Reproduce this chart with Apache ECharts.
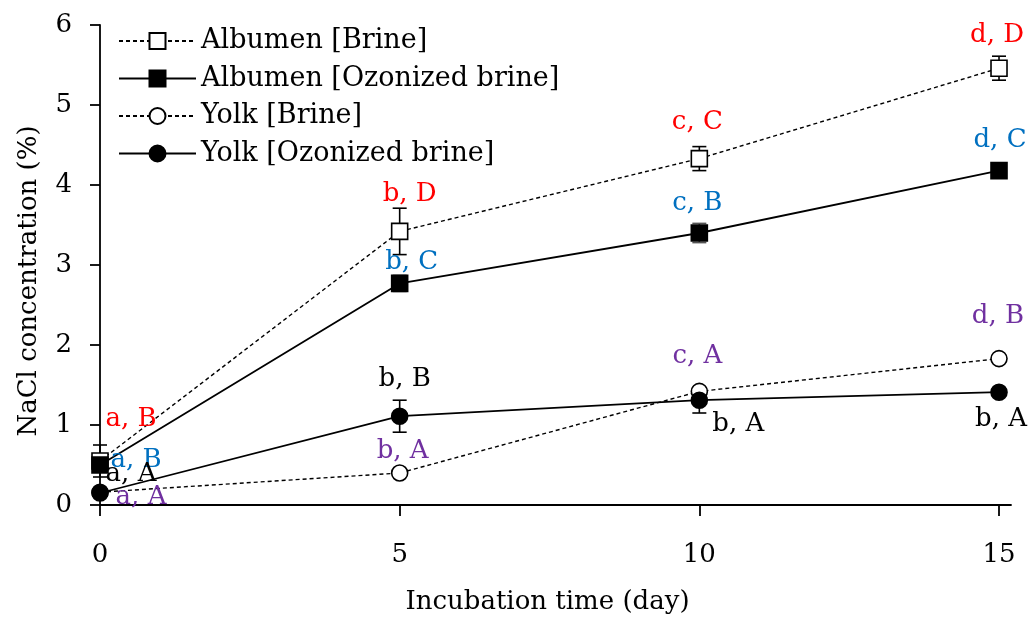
<!DOCTYPE html>
<html><head><meta charset="utf-8">
<script src="https://cdn.jsdelivr.net/npm/echarts@6/dist/echarts.min.js"></script>
<style>html,body{margin:0;padding:0;background:#fff}#c{width:1031px;height:620px}</style>
</head><body><div id="c"></div>
<script>
// ---- data ----
const days = [0, 5, 10, 15];
const xTicks = [0, 5, 10, 15];
const seriesNames = ['Albumen [Brine]', 'Albumen [Ozonized brine]', 'Yolk [Brine]', 'Yolk [Ozonized brine]'];
const albumenBrine = [0.55, 3.42, 4.33, 5.46];
const albumenBrineErr = [0.2, 0.29, 0.15, 0.15];
const albumenOzone = [0.50, 2.77, 3.40, 4.18];
const albumenOzoneErr = [0, 0.1, 0.12, 0];
const yolkBrine = [0.16, 0.40, 1.42, 1.83];
const yolkBrineErr = [0, 0, 0.04, 0];
const yolkOzone = [0.15, 1.11, 1.31, 1.41];
const yolkOzoneErr = [0, 0.2, 0.16, 0];
const albumenBrineLetters = ['a, B', 'b, D', 'c, C', 'd, D'];
const albumenOzoneLetters = ['a, B', 'b, C', 'c, B', 'd, C'];
const yolkBrineLetters = ['a, A', 'b, A', 'c, A', 'd, B'];
const yolkOzoneLetters = ['a, A', 'b, B', 'b, A', 'b, A'];

// ---- styling ----
const FONT = 'DejaVu Serif';
const FS = 26;
const labelOffsets = [
  [[31, -42], [10, -37], [-2, -36], [-2, -33]],
  [[36, -5], [12, -21], [-2, -30], [1, -30]],
  [[41, 5], [3, -22], [-2, -35], [-1, -42]],
  [[31, -19], [5, -37], [39, 24], [2, 27]]
];
const labelColors = ['#ff0000', '#0070c0', '#7030a0', '#000000'];
const values = [albumenBrine, albumenOzone, yolkBrine, yolkOzone];
const errs = [albumenBrineErr, albumenOzoneErr, yolkBrineErr, yolkOzoneErr];
const letters = [albumenBrineLetters, albumenOzoneLetters, yolkBrineLetters, yolkOzoneLetters];
const symbols = ['rect', 'rect', 'circle', 'circle'];
const filled = [false, true, false, true];
const dashed = [true, false, true, false];
const errColors = ['#000', '#555', '#000', '#000'];

const series = [];
for (let s = 0; s < 4; s++) {
  series.push({
    type: 'custom',
    z: 1,
    silent: true,
    renderItem: function (params, api) {
      const x = api.value(0), y = api.value(1), e = api.value(2);
      if (!e) return null;
      const top = api.coord([x, y + e]);
      const bot = api.coord([x, y - e]);
      const w = 7;
      const st = { stroke: errColors[s], lineWidth: 1.6 };
      return {
        type: 'group',
        children: [
          { type: 'line', shape: { x1: top[0], y1: top[1], x2: bot[0], y2: bot[1] }, style: st },
          { type: 'line', shape: { x1: top[0] - w, y1: top[1], x2: top[0] + w, y2: top[1] }, style: st },
          { type: 'line', shape: { x1: bot[0] - w, y1: bot[1], x2: bot[0] + w, y2: bot[1] }, style: st }
        ]
      };
    },
    data: days.map((d, i) => [d, values[s][i], errs[s][i]])
  });
}
for (let s = 0; s < 4; s++) {
  series.push({
    name: seriesNames[s],
    type: 'line',
    z: 3 + s,
    symbol: symbols[s],
    symbolSize: 16,
    showAllSymbol: true,
    lineStyle: { color: '#000', width: dashed[s] ? 1.4 : 1.8, type: dashed[s] ? [4, 3] : 'solid' },
    itemStyle: { color: filled[s] ? '#000' : '#fff', borderColor: '#000', borderWidth: 1.6 },
    emphasis: { disabled: true },
    data: days.map((d, i) => ({
      value: [d, values[s][i]],
      label: {
        show: true,
        formatter: letters[s][i],
        position: 'inside',
        offset: labelOffsets[s][i],
        color: labelColors[s],
        fontFamily: FONT,
        fontSize: FS,
        align: 'center',
        verticalAlign: 'middle'
      }
    }))
  });
}

const chart = echarts.init(document.getElementById('c'), null, { renderer: 'canvas' });
chart.setOption({
  animation: false,
  backgroundColor: '#fff',
  grid: { left: 100, right: 20, top: 25, bottom: 109, containLabel: false },
  legend: {
    orient: 'vertical',
    left: 113, top: 21,
    itemWidth: 77, itemHeight: 20,
    itemGap: 7.5,
    textStyle: { fontFamily: FONT, fontSize: 27, lineHeight: 30, color: '#000' },
    data: seriesNames
  },
  xAxis: {
    type: 'value', min: 0, max: 15.2,
    interval: 5,
    name: 'Incubation time (day)',
    nameLocation: 'middle', nameGap: 84,
    nameTextStyle: { fontFamily: FONT, fontSize: FS, color: '#000', padding: [0, 16, 0, 0] },
    axisLine: { onZero: false, lineStyle: { color: '#000', width: 1.8 } },
    axisTick: { show: true, length: 11, lineStyle: { color: '#000', width: 1.8 }, customValues: xTicks },
    axisLabel: { fontFamily: FONT, fontSize: 26, color: '#000', margin: 37, customValues: xTicks },
    splitLine: { show: false }
  },
  yAxis: {
    type: 'value', min: 0, max: 6, interval: 1,
    name: 'NaCl concentration (%)',
    nameLocation: 'middle', nameGap: 58,
    nameTextStyle: { fontFamily: FONT, fontSize: FS, color: '#000', padding: [0, 32, 0, 0] },
    axisLine: { show: true, lineStyle: { color: '#000', width: 1.8 } },
    axisTick: { show: true, length: 10, lineStyle: { color: '#000', width: 1.8 } },
    axisLabel: { fontFamily: FONT, fontSize: 26, color: '#000', margin: 28 },
    splitLine: { show: false }
  },
  series: series
});
</script></body></html>
